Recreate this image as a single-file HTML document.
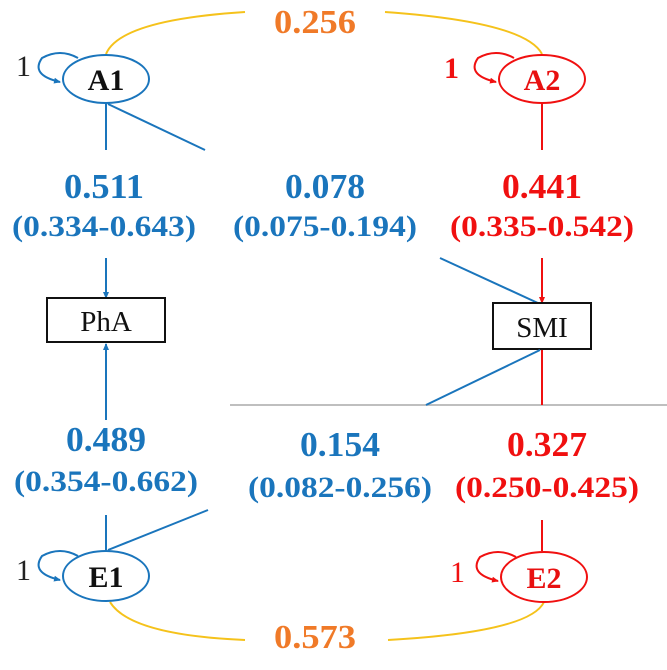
<!DOCTYPE html>
<html><head><meta charset="utf-8"><style>
html,body{margin:0;padding:0;background:#fff;width:667px;height:670px;overflow:hidden}
svg{display:block}
text{font-family:"Liberation Serif",serif}
</style></head><body>
<svg id="diagram" width="667" height="670" viewBox="0 0 667 670" xmlns="http://www.w3.org/2000/svg">
<defs>
<marker id="ab" markerWidth="8" markerHeight="8" refX="6" refY="4" orient="auto" markerUnits="userSpaceOnUse"><path d="M0,1 L7,4 L0,7z" fill="#1a75bc"/></marker>
<marker id="ar" markerWidth="8" markerHeight="8" refX="6" refY="4" orient="auto" markerUnits="userSpaceOnUse"><path d="M0,1 L7,4 L0,7z" fill="#f01010"/></marker>
</defs>
<g id="static">
<path d="M106,54 Q120,20 245,12" fill="none" stroke="#f5c21b" stroke-width="2"/>
<path d="M385,12 Q525,22 542,54" fill="none" stroke="#f5c21b" stroke-width="2"/>
<path d="M110,602 Q130,635 245,640" fill="none" stroke="#f5c21b" stroke-width="2"/>
<path d="M388,640 Q530,632 544,602" fill="none" stroke="#f5c21b" stroke-width="2"/>

<ellipse cx="106" cy="79" rx="43" ry="24" fill="#fff" stroke="#1a75bc" stroke-width="2"/>
<text x="106" y="90" text-anchor="middle" font-size="30" font-weight="bold" fill="#111">A1</text>
<path d="M78,58 Q60,48 42,58 Q30,75 60,82" fill="none" stroke="#1a75bc" stroke-width="2" marker-end="url(#ab)"/>
<text x="16" y="76" font-size="30" fill="#222">1</text>
<line x1="106" y1="103" x2="106" y2="150" stroke="#1a75bc" stroke-width="2"/>
<line x1="108" y1="104" x2="205" y2="150" stroke="#1a75bc" stroke-width="2"/>

<ellipse cx="542" cy="79" rx="43" ry="24" fill="#fff" stroke="#f01010" stroke-width="2"/>
<text x="542" y="90" text-anchor="middle" font-size="30" font-weight="bold" fill="#e81010">A2</text>
<path d="M514,58 Q496,48 478,58 Q466,75 496,82" fill="none" stroke="#f01010" stroke-width="2" marker-end="url(#ar)"/>
<text x="444" y="78" font-size="30" font-weight="bold" fill="#f01010">1</text>
<line x1="542" y1="103" x2="542" y2="150" stroke="#f01010" stroke-width="2"/>

<line x1="106" y1="258" x2="106" y2="298" stroke="#1a75bc" stroke-width="2" marker-end="url(#ab)"/>
<rect x="47" y="298" width="118" height="44" fill="#fff" stroke="#111" stroke-width="2"/>
<text x="106" y="331" text-anchor="middle" font-size="29" fill="#111">PhA</text>
<line x1="106" y1="420" x2="106" y2="344" stroke="#1a75bc" stroke-width="2" marker-end="url(#ab)"/>

<line x1="440" y1="258" x2="540" y2="304" stroke="#1a75bc" stroke-width="2"/>
<line x1="542" y1="258" x2="542" y2="303" stroke="#f01010" stroke-width="2" marker-end="url(#ar)"/>
<rect x="493" y="303" width="98" height="46" fill="#fff" stroke="#111" stroke-width="2"/>
<text x="542" y="337" text-anchor="middle" font-size="29" fill="#111">SMI</text>
<line x1="230" y1="405" x2="667" y2="405" stroke="#aaa" stroke-width="1.5"/>
<line x1="426" y1="405" x2="540" y2="350" stroke="#1a75bc" stroke-width="2"/>
<line x1="542" y1="350" x2="542" y2="405" stroke="#f01010" stroke-width="2"/>

<line x1="106" y1="515" x2="106" y2="550" stroke="#1a75bc" stroke-width="2"/>
<line x1="208" y1="510" x2="108" y2="550" stroke="#1a75bc" stroke-width="2"/>
<ellipse cx="106" cy="576" rx="43" ry="25" fill="#fff" stroke="#1a75bc" stroke-width="2"/>
<text x="106" y="587" text-anchor="middle" font-size="30" font-weight="bold" fill="#111">E1</text>
<path d="M78,556 Q60,546 42,556 Q30,573 60,580" fill="none" stroke="#1a75bc" stroke-width="2" marker-end="url(#ab)"/>
<text x="16" y="580" font-size="30" fill="#222">1</text>

<line x1="542" y1="520" x2="542" y2="551" stroke="#f01010" stroke-width="2"/>
<ellipse cx="544" cy="577" rx="43" ry="25" fill="#fff" stroke="#f01010" stroke-width="2"/>
<text x="544" y="588" text-anchor="middle" font-size="30" font-weight="bold" fill="#e81010">E2</text>
<path d="M516,557 Q498,547 480,557 Q468,574 498,581" fill="none" stroke="#f01010" stroke-width="2" marker-end="url(#ar)"/>
<text x="450" y="582" font-size="30" fill="#f01010">1</text>
</g>
<g id="labels"></g>
</svg>
<script>
const pathValues = ["0.511","0.078","0.441","0.489","0.154","0.327"];
const pathCIs = ["(0.334-0.643)","(0.075-0.194)","(0.335-0.542)","(0.354-0.662)","(0.082-0.256)","(0.250-0.425)"];
const pathNames = ["a1-pha","a1-smi","a2-smi","e1-pha","e1-smi","e2-smi"];
const corrValues = ["0.256","0.573"];
const corrNames = ["a1-a2","e1-e2"];

const ns = "http://www.w3.org/2000/svg";
const g = document.getElementById("labels");
const px = [104, 325, 542, 106, 340, 547];
const pyV = [198, 198, 198, 451, 456, 456];
const pyC = [236, 236, 236, 491, 497, 497];
const pcol = ["#1a75bc","#1a75bc","#f01010","#1a75bc","#1a75bc","#f01010"];
function mk(txt, x, y, size, col, len){
  const t = document.createElementNS(ns, "text");
  t.setAttribute("x", x); t.setAttribute("y", y);
  t.setAttribute("text-anchor", "middle");
  t.setAttribute("font-size", size);
  t.setAttribute("font-weight", "bold");
  t.setAttribute("fill", col);
  if (len) { t.setAttribute("textLength", len); t.setAttribute("lengthAdjust", "spacingAndGlyphs"); }
  t.textContent = txt;
  g.appendChild(t);
  return t;
}
for (let i = 0; i < pathValues.length; i++) {
  const v = mk(pathValues[i], px[i], pyV[i], 35, pcol[i], 80);
  
  
  const c = mk(pathCIs[i], px[i], pyC[i], 30, pcol[i], 184);
  
  
}
const cy = [33, 648];
for (let i = 0; i < corrValues.length; i++) {
  const t = mk(corrValues[i], 315, cy[i], 34, "#f07a28", 82);
  
  
}
</script>
</body></html>
